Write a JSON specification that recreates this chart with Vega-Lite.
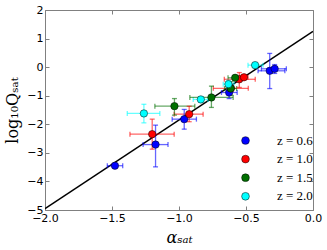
{
  "$schema": "https://vega.github.io/schema/vega-lite/v6.json",
  "width": 268,
  "height": 200,
  "autosize": "none",
  "padding": {"left": 45, "top": 10, "right": 14, "bottom": 40},
  "config": {
    "view": {"stroke": "#808080", "strokeWidth": 1},
    "axis": {
      "domain": false,
      "grid": false,
      "tickColor": "#808080",
      "tickSize": -4,
      "labelFont": "DejaVu Sans",
      "labelFontSize": 11,
      "labelColor": "#000000",
      "labelFlush": false,
      "labelOverlap": false,
      "titleFont": "DejaVu Serif",
      "titleFontWeight": "normal",
      "titleFontSize": 16,
      "titleColor": "#000000"
    }
  },
  "datasets": {
    "pts": [
      {"z": "z = 0.6", "a": -1.478, "alo": -1.535, "ahi": -1.42, "q": -3.45, "qlo": -3.52, "qhi": -3.38},
      {"z": "z = 0.6", "a": -1.175, "alo": -1.268, "ahi": -1.082, "q": -2.71, "qlo": -3.49, "qhi": -2.03},
      {"z": "z = 0.6", "a": -0.961, "alo": -1.051, "ahi": -0.87, "q": -1.82, "qlo": -2.17, "qhi": -1.48},
      {"z": "z = 0.6", "a": -0.626, "alo": -0.683, "ahi": -0.566, "q": -0.887, "qlo": -1.1, "qhi": -0.69},
      {"z": "z = 0.6", "a": -0.323, "alo": -0.41, "ahi": -0.21, "q": -0.128, "qlo": -0.75, "qhi": 0.48},
      {"z": "z = 0.6", "a": -0.286, "alo": -0.385, "ahi": -0.199, "q": -0.058, "qlo": -0.22, "qhi": 0.09},
      {"z": "z = 1.0", "a": -1.2, "alo": -1.366, "ahi": -1.036, "q": -2.345, "qlo": -2.87, "qhi": -1.82},
      {"z": "z = 1.0", "a": -0.924, "alo": -1.036, "ahi": -0.82, "q": -1.645, "qlo": -1.91, "qhi": -1.37},
      {"z": "z = 1.0", "a": -0.613, "alo": -0.744, "ahi": -0.483, "q": -0.74, "qlo": -0.85, "qhi": -0.63},
      {"z": "z = 1.0", "a": -0.55, "alo": -0.662, "ahi": -0.431, "q": -0.425, "qlo": -0.71, "qhi": -0.19},
      {"z": "z = 1.0", "a": -0.515, "alo": -0.545, "ahi": -0.485, "q": -0.355, "qlo": -0.42, "qhi": -0.29},
      {"z": "z = 1.5", "a": -1.034, "alo": -1.18, "ahi": -0.882, "q": -1.365, "qlo": -1.68, "qhi": -1.1},
      {"z": "z = 1.5", "a": -0.758, "alo": -0.919, "ahi": -0.596, "q": -1.06, "qlo": -1.41, "qhi": -0.665},
      {"z": "z = 1.5", "a": -0.614, "alo": -0.66, "ahi": -0.57, "q": -0.747, "qlo": -0.98, "qhi": -0.51},
      {"z": "z = 1.5", "a": -0.581, "alo": -0.634, "ahi": -0.522, "q": -0.373, "qlo": -0.46, "qhi": -0.29},
      {"z": "z = 2.0", "a": -1.262, "alo": -1.386, "ahi": -1.143, "q": -1.62, "qlo": -1.95, "qhi": -1.3},
      {"z": "z = 2.0", "a": -0.837, "alo": -0.894, "ahi": -0.783, "q": -1.13, "qlo": -1.23, "qhi": -1.03},
      {"z": "z = 2.0", "a": -0.631, "alo": -0.67, "ahi": -0.59, "q": -0.595, "qlo": -0.73, "qhi": -0.46},
      {"z": "z = 2.0", "a": -0.432, "alo": -0.485, "ahi": -0.373, "q": 0.07, "qlo": -0.02, "qhi": 0.16}
    ],
    "fit": [
      {"a": -2.0, "q": -4.95},
      {"a": 0.0, "q": 1.25}
    ]
  },
  "resolve": {"axis": {"x": "independent", "y": "independent"}, "legend": {"color": "independent"}},
  "layer": [
    {
      "data": {"name": "fit"},
      "mark": {"type": "line", "color": "#000000", "strokeWidth": 1.5, "clip": true},
      "encoding": {
        "x": {"field": "a", "type": "quantitative",
              "scale": {"domain": [-2, 0], "nice": false, "zero": false},
              "axis": {"orient": "bottom", "values": [-2, -1.5, -1, -0.5, 0], "format": ".1f", "title": "αₛₐₜ", "titleFontStyle": "italic", "labelPadding": 6, "titlePadding": 6}},
        "y": {"field": "q", "type": "quantitative",
              "scale": {"domain": [-5, 2], "nice": false, "zero": false},
              "axis": {"orient": "left", "values": [-5, -4, -3, -2, -1, 0, 1, 2], "format": "d", "title": "log₁₀Qₛₐₜ", "labelPadding": 6, "titlePadding": 6}}
      }
    },
    {
      "data": {"name": "pts"},
      "mark": {"type": "errorbar", "ticks": {"size": 5}, "thickness": 1.3, "opacity": 0.6},
      "encoding": {
        "x": {"field": "alo", "type": "quantitative", "axis": null},
        "x2": {"field": "ahi"},
        "y": {"field": "q", "type": "quantitative", "axis": null},
        "color": {"field": "z", "type": "nominal", "legend": null,
                  "scale": {"domain": ["z = 0.6", "z = 1.0", "z = 1.5", "z = 2.0"], "range": ["#0000ff", "#ff0000", "#007000", "#00ffff"]}}
      }
    },
    {
      "data": {"name": "pts"},
      "mark": {"type": "errorbar", "ticks": {"size": 5}, "thickness": 1.3, "opacity": 0.6},
      "encoding": {
        "y": {"field": "qlo", "type": "quantitative", "axis": null},
        "y2": {"field": "qhi"},
        "x": {"field": "a", "type": "quantitative", "axis": null},
        "color": {"field": "z", "type": "nominal", "legend": null}
      }
    },
    {
      "data": {"name": "pts"},
      "mark": {"type": "circle", "size": 55, "opacity": 1, "stroke": "#000000", "strokeWidth": 0.5},
      "encoding": {
        "x": {"field": "a", "type": "quantitative", "axis": {"orient": "top", "labels": false, "title": null, "values": [-2, -1.5, -1, -0.5, 0]}},
        "y": {"field": "q", "type": "quantitative", "axis": {"orient": "right", "labels": false, "title": null, "values": [-5, -4, -3, -2, -1, 0, 1, 2]}},
        "color": {"field": "z", "type": "nominal",
                  "legend": {"orient": "none", "legendX": 194, "legendY": 124, "title": null,
                             "symbolType": "circle", "symbolSize": 60, "symbolStrokeColor": "#000000", "symbolStrokeWidth": 0.5, "symbolOpacity": 1,
                             "labelFont": "Liberation Serif", "labelFontSize": 13, "labelColor": "#000000",
                             "labelOffset": 25, "rowPadding": 4.6}}
      }
    }
  ]
}
